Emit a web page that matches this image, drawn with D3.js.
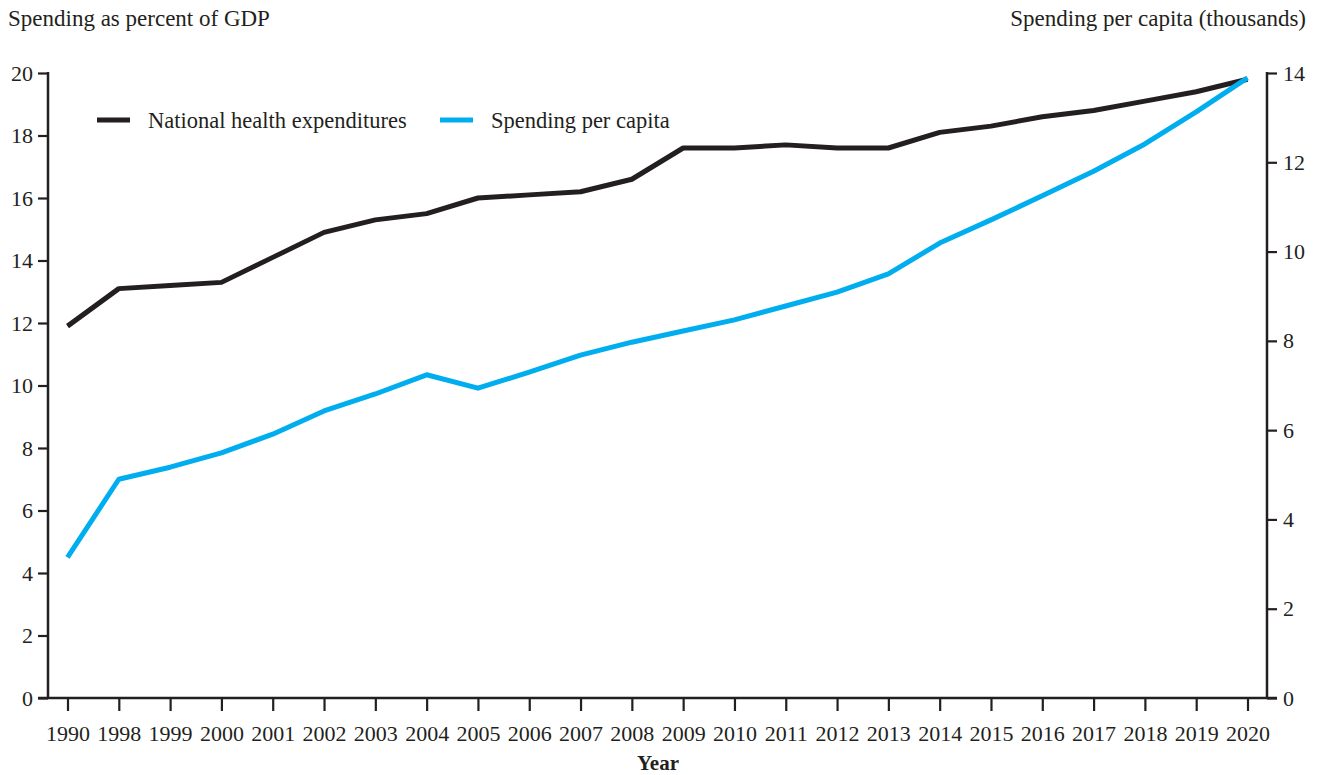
<!DOCTYPE html>
<html>
<head>
<meta charset="utf-8">
<script src="https://cdn.jsdelivr.net/npm/d3@7"></script>
<style>
  body { margin: 0; background: #fff; }
  text { font-family: 'Liberation Serif', 'Times New Roman', serif; fill: #231f20; }
</style>
</head>
<body>
<div id="chart"></div>
<script>
// categories (note the gap 1990 -> 1998)
const years = ['1990', '1998', '1999', '2000', '2001', '2002', '2003', '2004', '2005', '2006', '2007', '2008',
  '2009', '2010', '2011', '2012', '2013', '2014', '2015', '2016', '2017', '2018', '2019', '2020']

// national health expenditures, % of GDP (left axis)
const pctGdp = [11.9, 13.1, 13.2, 13.3, 14.1, 14.9, 15.3, 15.5, 16.0, 16.1, 16.2, 16.6,
  17.6, 17.6, 17.7, 17.6, 17.6, 18.1, 18.3, 18.6, 18.8, 19.1, 19.4, 19.8]

// spending per capita, thousands (right axis)
const perCapita = [3.15, 4.9, 5.17, 5.49, 5.91, 6.43, 6.81, 7.24, 6.94, 7.3, 7.68, 7.97,
  8.22, 8.47, 8.78, 9.09, 9.5, 10.19, 10.71, 11.25, 11.8, 12.41, 13.13, 13.89]

const leftTicks = [0, 2, 4, 6, 8, 10, 12, 14, 16, 18, 20]
const rightTicks = [0, 2, 4, 6, 8, 10, 12, 14]

const width = 1318
const height = 775
const ink = '#231f20'
const blue = '#00aeef'

const svg = d3.select('#chart').append('svg')
    .attr('width', width)
    .attr('height', height)

const x = d3.scalePoint().domain(years).range([67.5, 1247.5])
const yL = d3.scaleLinear().domain([0, 20]).range([698, 73])
const yR = d3.scaleLinear().domain([0, 14]).range([698, 73])

const tickFont = '22px'
const titleFont = '23px'

// left axis
const gl = svg.append('g')
    .attr('transform', 'translate(48,0)')
    .call(d3.axisLeft(yL).tickValues(leftTicks).tickSize(10).tickPadding(5))
// right axis
const gr = svg.append('g')
    .attr('transform', 'translate(1267,0)')
    .call(d3.axisRight(yR).tickValues(rightTicks).tickSize(10).tickPadding(6))
// bottom axis
const gb = svg.append('g')
    .attr('transform', 'translate(0,698)')
    .call(d3.axisBottom(x).tickSize(13).tickPadding(14))

for (const g of [gl, gr, gb]) {
  g.select('.domain').remove()
  g.selectAll('line').attr('stroke', ink).attr('stroke-width', 2.2)
  g.selectAll('text')
      .style('font-family', "'Liberation Serif', 'Times New Roman', serif")
      .style('font-size', tickFont)
      .attr('fill', ink)
}

// axis lines
svg.append('line')
    .attr('x1', 48).attr('x2', 48)
    .attr('y1', yL(20) - 1).attr('y2', 698)
    .attr('stroke', ink).attr('stroke-width', 2.5)
svg.append('line')
    .attr('x1', 1267).attr('x2', 1267)
    .attr('y1', yR(14) - 1).attr('y2', 698)
    .attr('stroke', ink).attr('stroke-width', 2.5)
svg.append('line')
    .attr('x1', 38).attr('x2', 1277)
    .attr('y1', 698).attr('y2', 698)
    .attr('stroke', ink).attr('stroke-width', 2.5)

// lines
const lineL = d3.line().x((d, i) => x(years[i])).y(d => yL(d))
const lineR = d3.line().x((d, i) => x(years[i])).y(d => yR(d))

svg.append('path')
    .datum(pctGdp)
    .attr('d', lineL)
    .attr('fill', 'none')
    .attr('stroke', ink)
    .attr('stroke-width', 5)
    .attr('stroke-linejoin', 'round')

svg.append('path')
    .datum(perCapita)
    .attr('d', lineR)
    .attr('fill', 'none')
    .attr('stroke', blue)
    .attr('stroke-width', 5)
    .attr('stroke-linejoin', 'round')

// axis titles
svg.append('text')
    .attr('x', 8).attr('y', 26)
    .style('font-size', titleFont)
    .text('Spending as percent of GDP')
svg.append('text')
    .attr('x', 1306).attr('y', 26)
    .attr('text-anchor', 'end')
    .style('font-size', titleFont)
    .text('Spending per capita (thousands)')
svg.append('text')
    .attr('x', 658).attr('y', 770)
    .attr('text-anchor', 'middle')
    .style('font-size', '21px')
    .style('font-weight', 'bold')
    .text('Year')

// legend
const legend = [
  {label: 'National health expenditures', color: ink, x: 97},
  {label: 'Spending per capita', color: blue, x: 440}
]
const lg = svg.append('g').selectAll('g').data(legend).enter().append('g')
    .attr('transform', d => 'translate(' + d.x + ',120)')
lg.append('line')
    .attr('x1', 0).attr('x2', 33)
    .attr('stroke', d => d.color)
    .attr('stroke-width', 5)
lg.append('text')
    .attr('x', 51).attr('y', 7.5)
    .style('font-size', '22.5px')
    .text(d => d.label)
</script>
</body>
</html>
